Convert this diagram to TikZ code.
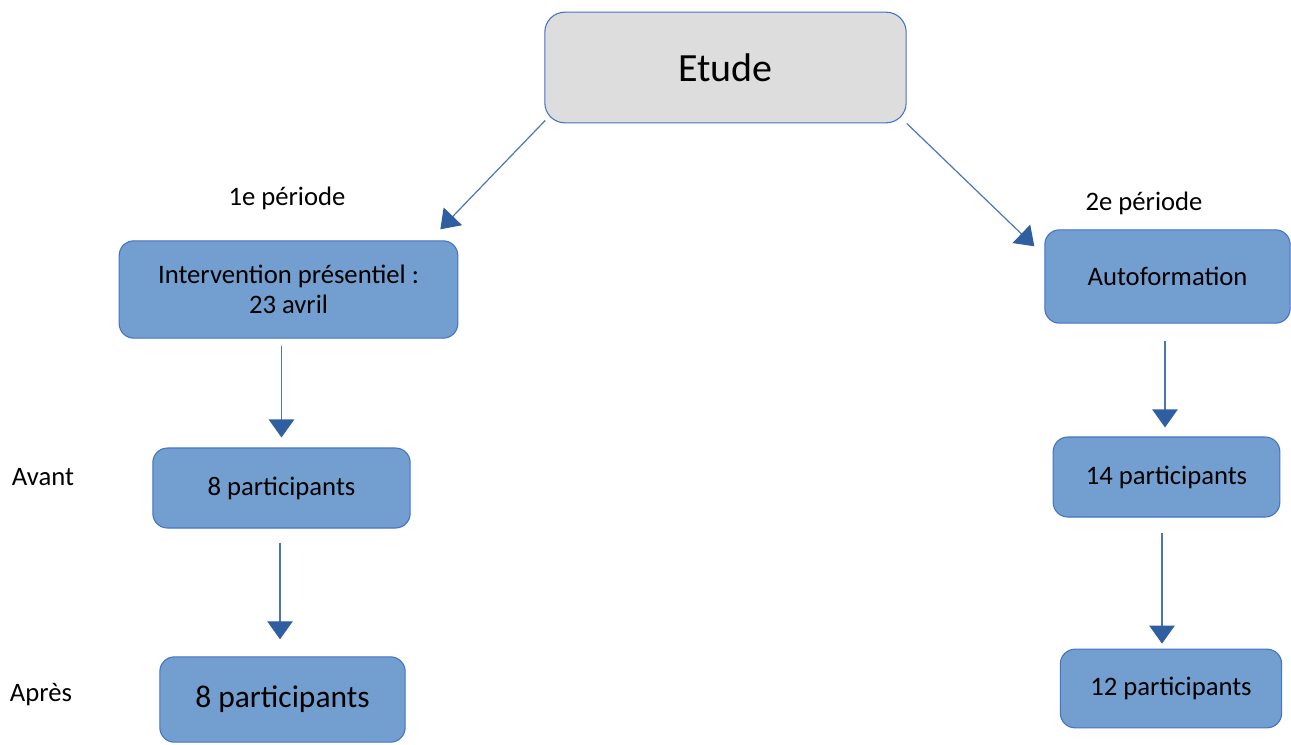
\documentclass[tikz,border=0pt]{standalone}
\usepackage{fontspec}
\setmainfont{Carlito}
\usetikzlibrary{arrows.meta,calc}
\definecolor{boxfill}{RGB}{114,159,207}
\definecolor{boxline}{RGB}{68,114,196}
\definecolor{arrline}{RGB}{74,119,180}
\definecolor{arrhead}{RGB}{47,95,160}
\definecolor{topfill}{RGB}{221,221,221}
\tikzset{
  bluebox/.style={draw=boxline, line width=0.8pt, fill=boxfill, rounded corners=11pt,
    inner sep=0pt, align=center, font=\fontsize{20}{22.5}\selectfont},
  topbox/.style={draw=boxline, line width=0.8pt, fill=topfill, rounded corners=15pt,
    inner sep=0pt, font=\fontsize{30}{36}\selectfont},
  lbl/.style={font=\fontsize{20}{24}\selectfont, inner sep=0pt},
  arr/.style={draw=arrline, line width=0.9pt,
    -{Triangle[length=13.5pt,width=19pt,fill=arrhead,color=arrhead]}}
}
\begin{document}
\begin{tikzpicture}[x=0.75pt,y=-0.75pt]
\useasboundingbox (0,0) rectangle (1291,744);
\node[topbox, minimum width=271pt, minimum height=83pt] (etude) at (725.5,67.5) {Etude};
\node[bluebox, minimum width=254pt, minimum height=73pt] (inter) at (288.5,289.5) {Intervention présentiel :\\23 avril};
\node[bluebox, minimum width=193pt, minimum height=60pt] (avant) at (281.5,488) {8 participants};
\node[bluebox, minimum width=184pt, minimum height=64pt, font=\fontsize{23.6}{28}\selectfont] (apres) at (282.5,699.5) {8 participants};
\node[bluebox, minimum width=184pt, minimum height=70pt] (auto) at (1167.5,276.5) {Autoformation};
\node[bluebox, minimum width=170pt, minimum height=60pt] (quatorze) at (1166.5,477) {14 participants};
\node[bluebox, minimum width=166pt, minimum height=59pt] (douze) at (1171,688.5) {12 participants};

\node[lbl] (p1) at (287,198) {1e période};
\node[lbl] (p2) at (1144,203) {2e période};
\node[lbl] (lavant) at (43,477) {Avant};
\node[lbl] (lapres) at (41,695) {Après};

\draw[arr] ($(etude.south west)+(1,-3)$) -- ($(inter.north east)+(-18,-11)$);
\draw[arr] (etude.south east) -- ($(auto.north west)+(-10,17)$);
\draw[arr] ($(avant.north |- inter.south)+(0,7)$) -- ($(avant.north)+(0,-10)$);
\draw[arr] ($(avant.south)+(-1.5,14)$) -- ($(avant.south |- apres.north)+(-1.5,-17)$);
\draw[arr] ($(quatorze.north |- auto.south)+(-1.5,17)$) -- ($(quatorze.north)+(-1.5,-9)$);
\draw[arr] ($(quatorze.south)+(-4.5,15)$) -- ($(quatorze.south |- douze.north)+(-4.5,-5)$);
\end{tikzpicture}
\end{document}
